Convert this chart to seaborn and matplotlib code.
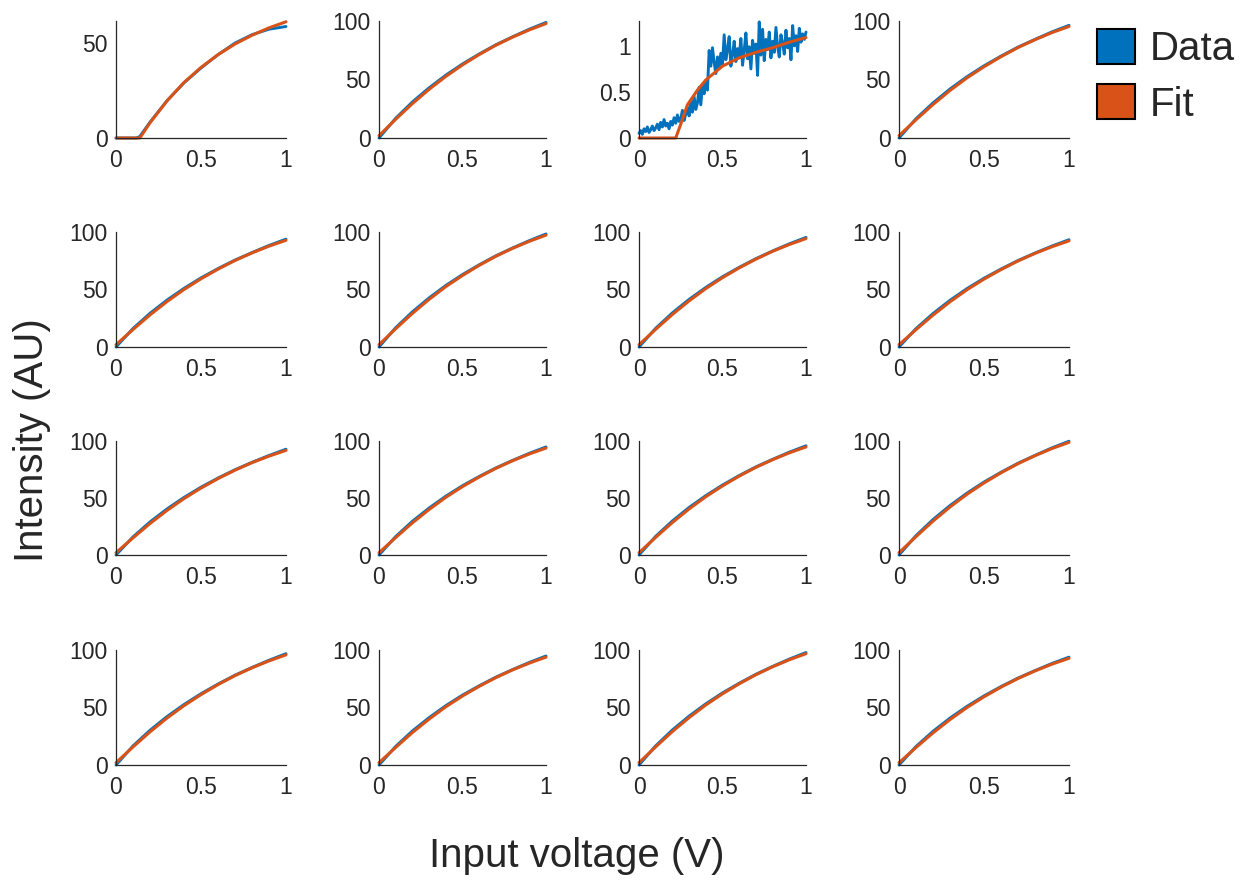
import numpy as np
import pandas as pd
import matplotlib
matplotlib.use("Agg")
import matplotlib.pyplot as plt
from matplotlib.patches import Patch
import seaborn as sns

# ---------------- data ----------------
x_std = [0.0, 0.1, 0.2, 0.3, 0.4, 0.5, 0.6, 0.7, 0.8, 0.9, 1.0]

# panel (row 0, col 0): thresholded response
x_p00 = [0.0, 0.1, 0.12, 0.14, 0.2, 0.3, 0.4, 0.5, 0.6, 0.7, 0.8, 0.9, 1.0]
data_p00 = [0, 0, 0, 0.8, 8.3, 19.6, 29.0, 36.8, 43.8, 49.9, 54.3, 57.2, 58.6]
fit_p00 = [0, 0, 0, 0, 8.0, 19.5, 29.2, 37.1, 43.8, 49.4, 54.0, 57.9, 61.1]

# panel (row 0, col 2): noisy response
x_p02 = [round(i * 0.01, 2) for i in range(101)]
data_p02 = [0.05, 0.08, 0.04, 0.10, 0.07, 0.12, 0.06, 0.09, 0.13, 0.08,
            0.11, 0.15, 0.09, 0.17, 0.12, 0.20, 0.13, 0.16, 0.10, 0.18,
            0.14, 0.22, 0.16, 0.25, 0.18, 0.21, 0.30, 0.19, 0.26, 0.33,
            0.24, 0.40, 0.28, 0.45, 0.31, 0.38, 0.55, 0.36, 0.58, 0.48,
            0.62, 0.52, 0.95, 0.78, 0.98, 0.82, 0.70, 0.88, 0.76, 0.92,
            0.80, 1.12, 0.85, 0.96, 1.10, 0.78, 0.90, 1.05, 0.83, 0.97,
            0.88, 1.08, 0.79, 0.95, 1.14, 0.86, 0.99, 0.75, 1.06, 0.92,
            1.02, 0.68, 1.26, 0.90, 1.18, 0.84, 1.07, 0.96, 1.15, 0.87,
            1.05, 0.93, 1.20, 0.99, 0.88, 1.12, 1.03, 0.91, 1.17, 0.98,
            1.08, 0.85, 1.22, 1.00, 1.11, 0.94, 1.19, 1.04, 1.13, 1.07,
            1.15]
x_fit_p02 = [0.0, 0.22, 0.25, 0.29, 0.35, 0.4, 0.5, 0.6, 0.7, 0.8, 0.9, 1.0]
fit_p02 = [0, 0, 0.15, 0.36, 0.52, 0.63, 0.78, 0.87, 0.93, 0.98, 1.04, 1.09]

# remaining panels (sampled at x_std)
data_p01 = [0, 16.9, 30.8, 42.9, 53.7, 63.3, 71.8, 79.7, 86.5, 93.0, 98.8]
fit_p01 = [2, 16.0, 29.4, 41.6, 52.6, 62.5, 71.3, 79.3, 86.2, 92.4, 97.8]
data_p03 = [0, 16.5, 30.0, 41.9, 52.4, 61.7, 70.0, 77.7, 84.3, 90.7, 96.3]
fit_p03 = [2, 15.6, 28.6, 40.6, 51.4, 60.9, 69.5, 77.3, 84.0, 90.1, 95.3]
data_p10 = [0, 16.1, 29.3, 40.8, 51.0, 60.1, 68.2, 75.6, 82.1, 88.3, 93.8]
fit_p10 = [2, 15.2, 27.9, 39.5, 50.0, 59.3, 67.7, 75.2, 81.8, 87.7, 92.8]
data_p11 = [0, 16.8, 30.6, 42.7, 53.5, 63.0, 71.5, 79.3, 86.1, 92.5, 98.3]
fit_p11 = [2, 15.9, 29.2, 41.4, 52.5, 62.2, 71.0, 78.9, 85.8, 91.9, 97.3]
data_p12 = [0, 16.3, 29.7, 41.4, 51.8, 61.1, 69.3, 76.8, 83.5, 89.7, 95.3]
fit_p12 = [2, 15.4, 28.3, 40.1, 50.8, 60.3, 68.8, 76.4, 83.2, 89.1, 94.3]
data_p13 = [0, 16.0, 29.1, 40.6, 50.8, 59.8, 67.8, 75.2, 81.7, 87.8, 93.3]
fit_p13 = [2, 15.1, 27.7, 39.3, 49.8, 59.0, 67.3, 74.8, 81.4, 87.2, 92.3]
data_p20 = [0, 15.9, 29.0, 40.4, 50.5, 59.5, 67.5, 74.8, 81.3, 87.3, 92.8]
fit_p20 = [2, 15.0, 27.6, 39.1, 49.5, 58.7, 67.0, 74.4, 81.0, 86.7, 91.8]
data_p21 = [0, 16.2, 29.6, 41.2, 51.6, 60.8, 68.9, 76.4, 83.0, 89.2, 94.8]
fit_p21 = [2, 15.3, 28.2, 39.9, 50.6, 60.0, 68.4, 76.0, 82.7, 88.6, 93.8]
data_p22 = [0, 16.4, 29.9, 41.7, 52.1, 61.4, 69.7, 77.3, 83.9, 90.2, 95.8]
fit_p22 = [2, 15.5, 28.5, 40.4, 51.1, 60.6, 69.2, 76.9, 83.6, 89.6, 94.8]
data_p23 = [0, 17.0, 31.1, 43.4, 54.3, 64.0, 72.6, 80.5, 87.4, 94.0, 99.8]
fit_p23 = [2, 16.1, 29.7, 42.1, 53.3, 63.2, 72.1, 80.1, 87.1, 93.4, 98.8]
data_p30 = [0, 16.6, 30.2, 42.1, 52.6, 62.0, 70.4, 78.1, 84.8, 91.1, 96.8]
fit_p30 = [2, 15.7, 28.8, 40.8, 51.6, 61.2, 69.9, 77.7, 84.5, 90.5, 95.8]
data_p31 = [0, 16.2, 29.6, 41.2, 51.6, 60.8, 68.9, 76.4, 83.0, 89.2, 94.8]
fit_p31 = [2, 15.3, 28.2, 39.9, 50.6, 60.0, 68.4, 76.0, 82.7, 88.6, 93.8]
data_p32 = [0, 16.7, 30.5, 42.5, 53.2, 62.7, 71.1, 78.9, 85.7, 92.1, 97.8]
fit_p32 = [2, 15.8, 29.1, 41.2, 52.2, 61.9, 70.6, 78.5, 85.4, 91.5, 96.8]
data_p33 = [0, 16.1, 29.3, 40.8, 51.0, 60.1, 68.2, 75.6, 82.1, 88.3, 93.8]
fit_p33 = [2, 15.2, 27.9, 39.5, 50.0, 59.3, 67.7, 75.2, 81.8, 87.7, 92.8]

x_ticks = [0, 0.5, 1]
x_tick_labels = ["0", "0.5", "1"]
legend_labels = ["Data", "Fit"]
xlabel = "Input voltage (V)"
ylabel = "Intensity (AU)"

panels = {
    (0, 0): (x_p00, data_p00, x_p00, fit_p00, [0, 50], ["0", "50"], 61.5),
    (0, 1): (x_std, data_p01, x_std, fit_p01, [0, 50, 100], ["0", "50", "100"], 100),
    (0, 2): (x_p02, data_p02, x_fit_p02, fit_p02, [0, 0.5, 1], ["0", "0.5", "1"], 1.27),
    (0, 3): (x_std, data_p03, x_std, fit_p03, [0, 50, 100], ["0", "50", "100"], 100),
    (1, 0): (x_std, data_p10, x_std, fit_p10, [0, 50, 100], ["0", "50", "100"], 100),
    (1, 1): (x_std, data_p11, x_std, fit_p11, [0, 50, 100], ["0", "50", "100"], 100),
    (1, 2): (x_std, data_p12, x_std, fit_p12, [0, 50, 100], ["0", "50", "100"], 100),
    (1, 3): (x_std, data_p13, x_std, fit_p13, [0, 50, 100], ["0", "50", "100"], 100),
    (2, 0): (x_std, data_p20, x_std, fit_p20, [0, 50, 100], ["0", "50", "100"], 100),
    (2, 1): (x_std, data_p21, x_std, fit_p21, [0, 50, 100], ["0", "50", "100"], 100),
    (2, 2): (x_std, data_p22, x_std, fit_p22, [0, 50, 100], ["0", "50", "100"], 100),
    (2, 3): (x_std, data_p23, x_std, fit_p23, [0, 50, 100], ["0", "50", "100"], 100),
    (3, 0): (x_std, data_p30, x_std, fit_p30, [0, 50, 100], ["0", "50", "100"], 100),
    (3, 1): (x_std, data_p31, x_std, fit_p31, [0, 50, 100], ["0", "50", "100"], 100),
    (3, 2): (x_std, data_p32, x_std, fit_p32, [0, 50, 100], ["0", "50", "100"], 100),
    (3, 3): (x_std, data_p33, x_std, fit_p33, [0, 50, 100], ["0", "50", "100"], 100),
}

# ---------------- style ----------------
sns.set_style("white")
plt.rcParams["font.family"] = ["Liberation Sans", "DejaVu Sans"]
BLUE = "#0072BD"
ORANGE = "#D95319"
INK = "#262626"

W, H = 1248, 882
fig = plt.figure(figsize=(W / 100, H / 100), dpi=100)

col_px = [(116, 286), (379, 546), (639, 806), (899, 1069)]
row_px = [(21, 138), (232, 347), (441, 555), (650, 765)]

for (r, c), (xd, yd, xf, yf, yt, ytl, ytop) in panels.items():
    l, rr = col_px[c]
    t, b = row_px[r]
    ax = fig.add_axes([l / W, 1 - b / H, (rr - l) / W, (b - t) / H])
    dfd = pd.DataFrame({"x": xd, "y": yd})
    dff = pd.DataFrame({"x": xf, "y": yf})
    sns.lineplot(data=dfd, x="x", y="y", ax=ax, color=BLUE, lw=2.1,
                 estimator=None, sort=False, clip_on=False)
    sns.lineplot(data=dff, x="x", y="y", ax=ax, color=ORANGE, lw=2.2,
                 estimator=None, sort=False, clip_on=False)
    ax.set_xlim(0, 1)
    ax.set_ylim(0, ytop)
    ax.set_xticks(x_ticks)
    ax.set_xticklabels(x_tick_labels)
    ax.set_yticks(yt)
    ax.set_yticklabels(ytl)
    ax.set_xlabel("")
    ax.set_ylabel("")
    for s in ["top", "right"]:
        ax.spines[s].set_visible(False)
    for s in ["left", "bottom"]:
        ax.spines[s].set_color(INK)
        ax.spines[s].set_linewidth(0.9)
    ax.tick_params(direction="in", length=3.8, width=0.9, colors=INK,
                   labelsize=16.5, labelcolor=INK)
    ax.tick_params(axis="x", pad=8)
    ax.tick_params(axis="y", pad=6)
    ax.set_facecolor("none")

fig.text(577 / W, 1 - 856 / H, xlabel, ha="center", va="center",
         fontsize=29, color=INK)
fig.text(32 / W, 1 - 440 / H, ylabel, ha="center", va="center",
         rotation=90, fontsize=29, color=INK)

handles = [Patch(facecolor=BLUE, edgecolor="black", linewidth=1.5, label=legend_labels[0]),
           Patch(facecolor=ORANGE, edgecolor="black", linewidth=1.5, label=legend_labels[1])]
fig.legend(handles=handles, loc="upper left",
           bbox_to_anchor=(1097 / W, 1 - 29 / H), frameon=False,
           fontsize=29, handlelength=0.95, handleheight=0.95,
           handletextpad=0.35, labelspacing=0.4, borderaxespad=0,
           borderpad=0)

fig.savefig("out.png", dpi=100)
